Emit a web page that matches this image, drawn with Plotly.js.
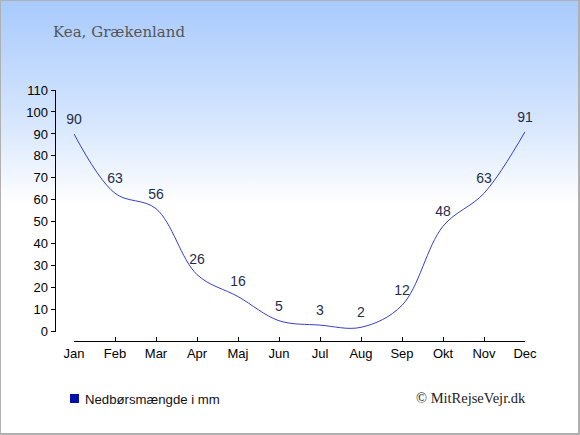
<!DOCTYPE html>
<html>
<head>
<meta charset="utf-8">
<script src="https://cdn.plot.ly/plotly-3.0.1.min.js"></script>
<style>
  html, body { margin: 0; padding: 0; width: 580px; height: 435px; overflow: hidden; }
  #wrap { position: relative; width: 580px; height: 435px;
          background: linear-gradient(to bottom, #a8cafd 0%, #d6e6fd 28%, #ffffff 47%, #ffffff 100%); }
  #chart { position: absolute; left: 0; top: 0; width: 580px; height: 435px; }
  #frame { position: absolute; left: 0; top: 0; width: 580px; height: 435px; box-sizing: border-box;
           border: 1px solid #b0b0b0; border-right-width: 2px; border-bottom-width: 2px; pointer-events: none; }
</style>
</head>
<body>
<div id="wrap"><div id="chart"></div><div id="frame"></div></div>
<script>
const months = ["Jan","Feb","Mar","Apr","Maj","Jun","Jul","Aug","Sep","Okt","Nov","Dec"];
const precipitation = [90, 63, 56, 26, 16, 5, 3, 2, 12, 48, 63, 91];
const yTicks = [0,10,20,30,40,50,60,70,80,90,100,110];
const titleText = "Kea, Grækenland";
const legendText = "Nedbørsmængde i mm";
const copyrightText = "© MitRejseVejr.dk";

const W = 580, H = 435;
const px = v => v / W;
const py = v => 1 - v / H;

const trace = {
  x: months,
  y: precipitation,
  mode: "lines+markers+text",
  type: "scatter",
  line: { color: "#3340c8", width: 1, shape: "spline", smoothing: 1 },
  marker: { size: 9, opacity: 0, color: "#3340c8" },
  text: precipitation.map(String),
  textposition: "top center",
  textfont: { family: "Liberation Sans, Arial, sans-serif", size: 14, color: "#1f2d4d" },
  hoverinfo: "none",
  showlegend: false,
  cliponaxis: false
};

const layout = {
  width: W, height: H,
  margin: { l: 0, r: 0, t: 0, b: 0, pad: 0 },
  paper_bgcolor: "rgba(0,0,0,0)",
  plot_bgcolor: "rgba(0,0,0,0)",
  showlegend: false,
  font: { family: "Liberation Sans, Arial, sans-serif", size: 13, color: "#000" },
  xaxis: {
    domain: [px(74), px(525)],
    anchor: "free",
    position: py(341),
    type: "category",
    range: [0, 11],
    tickvals: months,
    ticktext: months,
    showgrid: false,
    zeroline: false,
    showline: true,
    linecolor: "#000",
    linewidth: 1,
    ticks: "inside",
    ticklen: 4,
    tickcolor: "#000",
    tickfont: { size: 13, color: "#000" },
    fixedrange: true
  },
  yaxis: {
    domain: [py(331.7), py(90)],
    anchor: "free",
    position: px(54.5),
    range: [0, 110],
    tickvals: yTicks,
    showgrid: false,
    zeroline: false,
    showline: true,
    linecolor: "#000",
    linewidth: 1,
    ticks: "outside",
    ticklen: 4,
    tickcolor: "#000",
    tickfont: { size: 13, color: "#000" },
    fixedrange: true
  },
  shapes: [
    { type: "rect", xref: "paper", yref: "paper",
      x0: px(70), x1: px(79), y0: py(403), y1: py(394),
      fillcolor: "#0010a8", line: { width: 0 } }
  ],
  annotations: [
    { text: titleText, xref: "paper", yref: "paper", x: px(51), y: py(32),
      xanchor: "left", yanchor: "middle", showarrow: false,
      font: { family: "DejaVu Serif, Georgia, serif", size: 15, color: "#555555" } },
    { text: legendText, xref: "paper", yref: "paper", x: px(83), y: py(399),
      xanchor: "left", yanchor: "middle", showarrow: false,
      font: { family: "Liberation Sans, Arial, sans-serif", size: 13.2, color: "#111" } },
    { text: copyrightText, xref: "paper", yref: "paper", x: px(528), y: py(398),
      xanchor: "right", yanchor: "middle", showarrow: false,
      font: { family: "Liberation Serif, Times New Roman, serif", size: 14.5, color: "#222" } }
  ]
};

Plotly.newPlot("chart", [trace], layout, { staticPlot: true, displayModeBar: false });
</script>
</body>
</html>
